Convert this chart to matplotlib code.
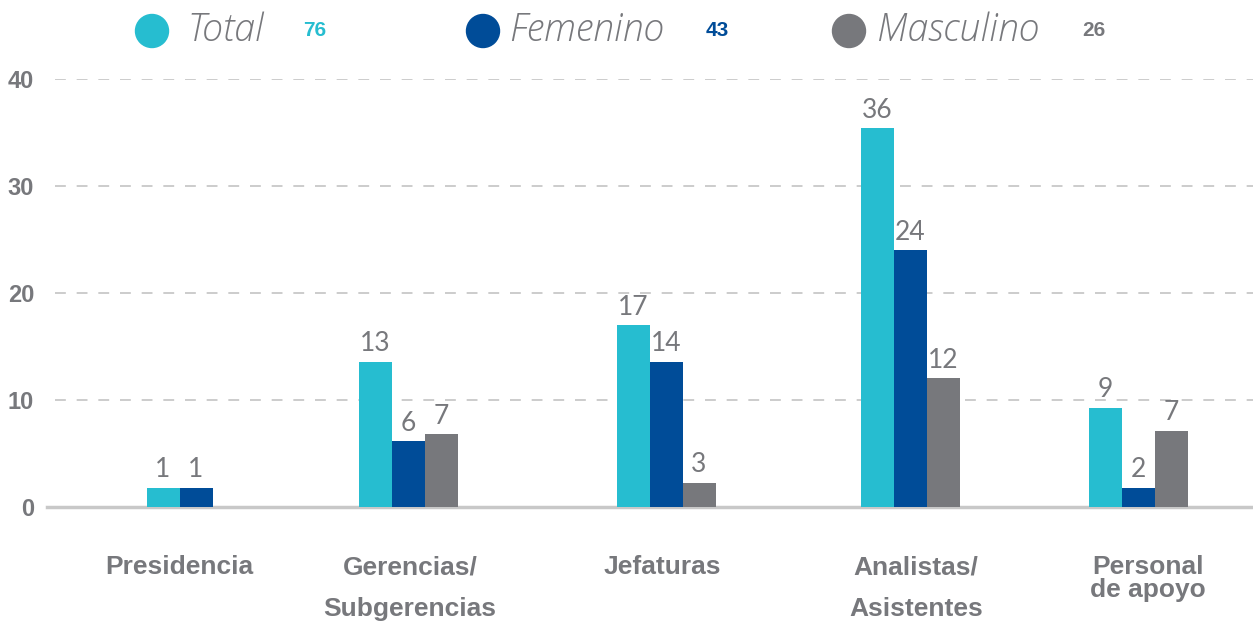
import numpy as np
from matplotlib import pyplot as plt
from matplotlib.patches import Ellipse

# data
categories = ['Presidencia', 'Gerencias/\nSubgerencias', 'Jefaturas', 'Analistas/\nAsistentes', 'Personal\nde apoyo']
series = ['Total', 'Femenino', 'Masculino']
series_totals = ['76', '43', '26']
# bar heights as drawn
total_h = [1.8, 13.55, 17.0, 35.4, 9.25]
femenino_h = [1.8, 6.15, 13.55, 24.0, 1.8]
masculino_h = [0.0, 6.8, 2.25, 12.05, 7.1]
# value labels as printed
total_lbl = ['1', '13', '17', '36', '9']
femenino_lbl = ['1', '6', '14', '24', '2']
masculino_lbl = ['', '7', '3', '12', '7']

colors = ['#26BDD0', '#004C98', '#77787C']
grey = '#77787C'

W, H = 1253, 623
fig = plt.figure(figsize=(W / 100, H / 100), dpi=100)
ax = fig.add_axes([55 / W, (H - 507) / H, 1 - 55 / W, 428 / H])

# group centres in pixel units (x axis runs in pixels)
group_x = np.array([196, 408, 666, 910, 1138])
label_x = [179, 410, 662, 916, 1148]
bw = 33

heights = [total_h, femenino_h, masculino_h]
labels = [total_lbl, femenino_lbl, masculino_lbl]
for i in range(3):
  xs = group_x + (i - 1) * bw
  ax.bar(xs, heights[i], width=bw, color=colors[i], zorder=3)
  for x, h, t in zip(xs, heights[i], labels[i]):
    if t:
      ax.annotate(t, (x, h), xytext=(0, 4), textcoords='offset points', ha='center', va='bottom',
                  fontsize=19, color=grey, family='Lato')

ax.set_xlim(55, 1253)
ax.set_ylim(0, 40)
ax.set_yticks([0, 10, 20, 30, 40])
for y in [10, 20, 30, 40]:
  ax.axhline(y, color='#C8C8C8', lw=1.3, ls=(0, (6, 6)), zorder=1)
ax.axhline(0, color='#C8C8C8', lw=2.5, zorder=2, xmin=-8 / 1198, clip_on=False)
for s in ax.spines.values():
  s.set_visible(False)
ax.tick_params(axis='y', length=0, pad=15, labelsize=17, labelcolor=grey)
for t in ax.get_yticklabels():
  t.set_fontweight('bold')
  t.set_family('Liberation Sans')
ax.set_xticks([])

for x, c in zip(label_x, categories):
  ls = 0.95 if c.startswith('Personal') else 1.95
  ax.text(x, -4.5, c, ha='center', va='top', fontsize=19, fontweight='bold', color=grey,
          family='Liberation Sans', linespacing=ls, multialignment='center')

# legend drawn by hand
circ_x = [152, 483, 849]
name_x = [187, 509, 877]
num_x = [303, 706, 1082]
ly = 31
for cx, nx, vx, name, val, col in zip(circ_x, name_x, num_x, series, series_totals, colors):
  fig.add_artist(Ellipse((cx / W, 1 - ly / H), 33 / W, 33 / H, color=col, transform=fig.transFigure))
  fig.text(nx / W, 1 - ly / H, name, ha='left', va='center', fontsize=27, style='italic',
           color=grey, family='Open Sans', fontweight='light')
  fig.text(vx / W, 1 - ly / H, val, ha='left', va='center', fontsize=15, fontweight='bold', color=col,
           family='Liberation Sans')

fig.savefig('out.png', dpi=100)
